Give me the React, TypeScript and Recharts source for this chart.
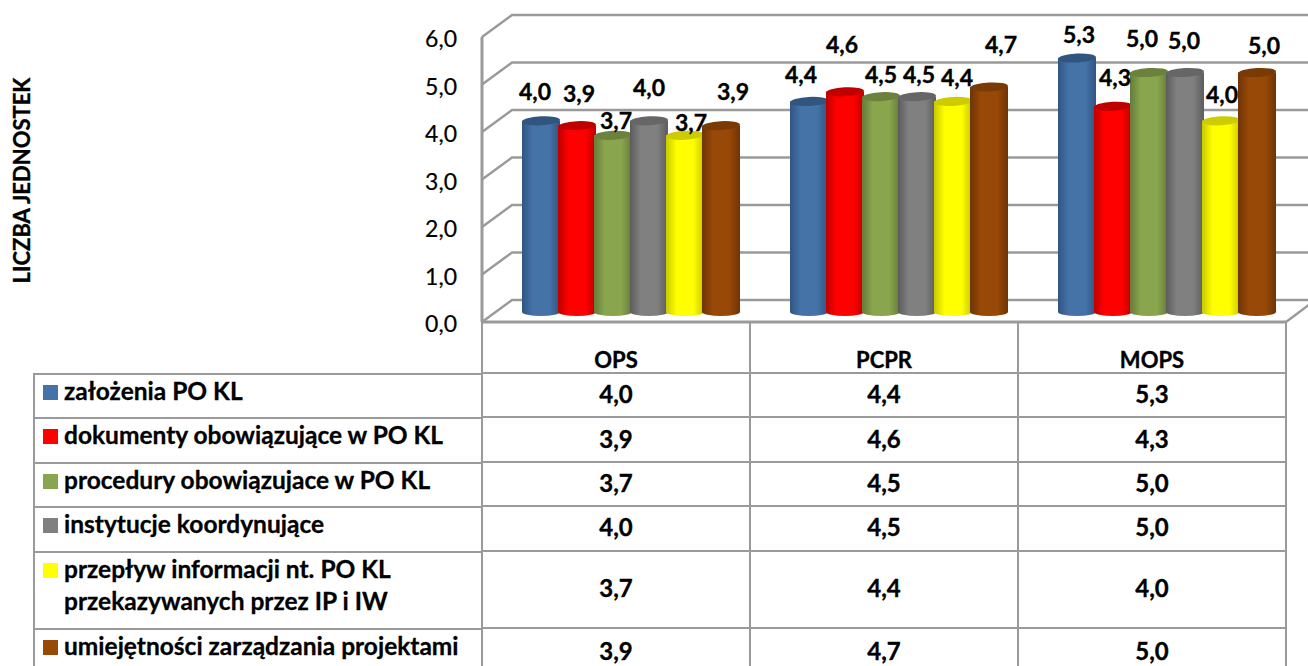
import React from 'react';
import { ComposedChart, Bar, XAxis, YAxis, CartesianGrid, Legend, LabelList } from 'recharts';

const categories = ['OPS', 'PCPR', 'MOPS'];
const seriesNames = [
  'założenia PO KL',
  'dokumenty obowiązujące w PO KL',
  'procedury obowiązujace w PO KL',
  'instytucje koordynujące',
  'przepływ informacji nt. PO KL\nprzekazywanych przez IP i IW',
  'umiejętności zarządzania projektami',
];
const zalozenia = [4.0, 4.4, 5.3];
const dokumenty = [3.9, 4.6, 4.3];
const procedury = [3.7, 4.5, 5.0];
const instytucje = [4.0, 4.5, 5.0];
const przeplyw = [3.7, 4.4, 4.0];
const umiejetnosci = [3.9, 4.7, 5.0];
const seriesValues = [zalozenia, dokumenty, procedury, instytucje, przeplyw, umiejetnosci];
const yTicks = [0, 1, 2, 3, 4, 5, 6];

const swatches = ['#4572A7', '#FF0000', '#89A54E', '#808080', '#FFFF00', '#984807'];
const edges = ['#2F5583', '#BE0000', '#667B3A', '#5C5C5C', '#C8C800', '#6E3405'];
const tops = ['#31557F', '#C00000', '#6B813C', '#666666', '#CCCC00', '#7A3A06'];

// Per-point nudges of the data labels (Excel's 3-D layout scatters them): [series][category]
const labelDx = [[-6, -8, 2], [2, -3, 2], [3, 0, -7], [0, 2, -1], [6, 4, 1], [12, 12, 7]];
const labelDy = [[-30, -27, -24], [-33, -48, -29], [-15, -23, -35], [-34, -23, -33], [-13, -24, -27], [-35, -43, -28]];

const chartData = categories.map((c, i) => {
  const row: Record<string, string | number> = { category: c };
  seriesValues.forEach((vals, s) => { row['s' + s] = vals[i]; });
  return row;
});

const FONT = 'Lato, sans-serif';
const LINE = '#9A9A9A';
const HEAVY = { stroke: '#000', strokeWidth: 0.35 };
const fmt = (v: number) => Number(v).toFixed(1).replace('.', ',');

const rowLines = [373, 417, 462, 506, 551, 628, 668];
const valueCenters = [393, 438, 482, 526, 587, 650];
const DEPTH_X = 30;
const DEPTH_Y = 22;
const BAR_SHIFT = 15;
const BASE_LIFT = 8;
const BAR_STRETCH = 48.3 / 47.5; // bars stand a little taller than the front axis scale (3-D perspective)

const barTop = (p: any) => p.y + p.height - BASE_LIFT - p.height * BAR_STRETCH;

const Cylinder = (s: number) => (p: any) => {
  const cx = p.x + p.width / 2 + BAR_SHIFT;
  const rx = 19;
  const ry = 4;
  const top = barTop(p);
  const bottom = p.y + p.height - BASE_LIFT - 2;
  return (
    <g>
      <path
        d={`M${cx - rx},${top} L${cx - rx},${bottom} A${rx},${ry} 0 0 0 ${cx + rx},${bottom} L${cx + rx},${top} Z`}
        fill={`url(#cyl${s})`}
      />
      <ellipse cx={cx} cy={top} rx={rx} ry={4.5} fill={tops[s]} transform={`rotate(-3 ${cx} ${top})`} />
    </g>
  );
};

const DataLabel = (s: number) => (p: any) => {
  const i = p.index;
  const cx = p.x + p.width / 2 + BAR_SHIFT + labelDx[s][i];
  const cy = barTop(p) + labelDy[s][i];
  return (
    <text x={cx} y={cy} textAnchor="middle" dominantBaseline="central" fontFamily={FONT} fontWeight={700} fontSize={23} fill="#000" {...HEAVY}>
      {fmt(p.value)}
    </text>
  );
};

const BackGridLine = (p: any) => (
  <path
    key={p.key ?? p.index}
    d={`M${p.x1},${p.y1} L${p.x1 + DEPTH_X},${p.y1 - DEPTH_Y} L1310,${p.y1 - DEPTH_Y}`}
    fill="none"
    stroke={LINE}
    strokeWidth={2.5}
  />
);

const ColumnTick = (p: any) => {
  const cx = p.x;
  const half = 134;
  const idx = p.index ?? p.payload.index;
  return (
    <g>
      <path d={`M${cx - half},322 V668 M${cx + half},322 V668`} stroke={LINE} strokeWidth={2} fill="none" />
      {rowLines.slice(0, 6).map((y) => (
        <path key={y} d={`M${cx - half},${y} H${cx + half}`} stroke={LINE} strokeWidth={2} fill="none" />
      ))}
      {idx === categories.length - 1 && (
        <path d={`M${cx + half},322 L${cx + half + 24},304`} stroke={LINE} strokeWidth={2.5} fill="none" />
      )}
      <text x={cx} y={359} textAnchor="middle" dominantBaseline="central" fontFamily={FONT} fontWeight={700} fontSize={22} fill="#000" {...HEAVY}>
        {p.payload.value}
      </text>
      {seriesValues.map((vals, s) => (
        <text key={s} x={cx} y={valueCenters[s]} textAnchor="middle" dominantBaseline="central" fontFamily={FONT} fontWeight={700} fontSize={24} fill="#000" {...HEAVY}>
          {fmt(vals[idx])}
        </text>
      ))}
    </g>
  );
};

const LegendTable = (p: any) => (
  <div style={{ position: 'relative', width: 450, height: 293, overflow: 'hidden' }}>
    {(p.payload || []).map((item: any, s: number) => (
      <div
        key={s}
        style={{
          position: 'absolute', left: 0, top: rowLines[s] - 373, width: 450,
          height: rowLines[s + 1] - rowLines[s], boxSizing: 'border-box',
          borderTop: `2px solid ${LINE}`, borderLeft: `2px solid ${LINE}`,
        }}
      >
        <div style={{ position: 'absolute', left: 8, top: 10, width: 15, height: 15, background: item.color }} />
        <div
          style={{
            position: 'absolute', left: 29, top: 0, whiteSpace: 'pre-line', fontFamily: FONT, fontWeight: 700,
            fontSize: 24.5, lineHeight: '32px', color: '#000', WebkitTextStroke: '0.3px #000',
          }}
        >
          {item.value}
        </div>
      </div>
    ))}
  </div>
);

const AxisTitle = (p: any) => {
  const vb = p.viewBox;
  const y = vb.y + vb.height / 2 + 1;
  return (
    <text x={21} y={y} transform={`rotate(-90 21 ${y})`} textAnchor="middle" dominantBaseline="central" fontFamily={FONT} fontWeight={700} fontSize={22} fill="#000" {...HEAVY}>
      LICZBA JEDNOSTEK
    </text>
  );
};

export default function App() {
  return (
    <div style={{ position: 'absolute', left: 0, top: 0, width: 1308, height: 666, overflow: 'hidden', background: '#fff' }}>
      <ComposedChart
        width={1308}
        height={666}
        data={chartData}
        margin={{ top: 37, right: 22, bottom: 0, left: 0 }}
        barSize={36}
        barGap={0}
      >
        <defs>
          {swatches.map((c, s) => (
            <linearGradient key={s} id={`cyl${s}`} x1="0" y1="0" x2="1" y2="0">
              <stop offset="0%" stopColor={edges[s]} />
              <stop offset="28%" stopColor={c} />
              <stop offset="72%" stopColor={c} />
              <stop offset="100%" stopColor={edges[s]} />
            </linearGradient>
          ))}
        </defs>
        <CartesianGrid vertical={false} horizontal={BackGridLine as any} />
        <XAxis
          dataKey="category"
          height={344}
          interval={0}
          tickSize={0}
          tickLine={false}
          axisLine={{ stroke: LINE, strokeWidth: 3 }}
          tick={ColumnTick as any}
        />
        <YAxis
          width={482}
          domain={[0, 6]}
          ticks={yTicks}
          interval={0}
          tickSize={0}
          tickMargin={25}
          tickLine={false}
          axisLine={{ stroke: LINE, strokeWidth: 3 }}
          tickFormatter={fmt}
          tick={{ fontFamily: FONT, fontSize: 23, fill: '#000', dy: 2, stroke: '#000', strokeWidth: 0.2 } as any}
          label={AxisTitle as any}
        />
        {seriesNames.map((name, s) => (
          <Bar
            key={s}
            dataKey={'s' + s}
            name={name}
            fill={swatches[s]}
            isAnimationActive={false}
            shape={Cylinder(s) as any}
          >
            <LabelList dataKey={'s' + s} content={DataLabel(s) as any} />
          </Bar>
        ))}
        <Legend
          layout="vertical"
          align="center"
          verticalAlign="middle"
          itemSorter={null as any}
          wrapperStyle={{ position: 'absolute', left: 33, top: 373, width: 450, height: 293 }}
          content={LegendTable as any}
        />
      </ComposedChart>
    </div>
  );
}
